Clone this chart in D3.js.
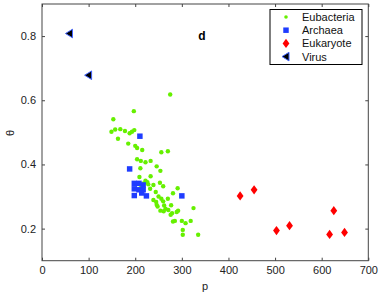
<!DOCTYPE html>
<html><head><meta charset="utf-8">
<script src="https://cdn.jsdelivr.net/npm/d3@7"></script>
<style>body{margin:0;background:#fff}svg{display:block;font-family:"Liberation Sans",Arial,sans-serif}</style>
</head><body><svg id="c" width="382" height="294"></svg>
<script>
const eubP = [275,197,153,149,157,168,178,188,193,198,163,185,200,204,215,256,270,204,212,222,233,246,254,211,209,233,222,218,239,232,253,260,244,291,281,256,270,260,245,248,277,325,254,292,276,281,285,300,308,319,302,302,335,226,215,228,213,239,246,261,271,279,289,265,250,262];
const eubT = [0.618,0.566,0.541,0.502,0.509,0.510,0.504,0.497,0.502,0.507,0.480,0.465,0.458,0.451,0.445,0.438,0.441,0.416,0.411,0.407,0.411,0.394,0.380,0.388,0.361,0.363,0.349,0.341,0.336,0.324,0.343,0.332,0.314,0.326,0.310,0.293,0.293,0.285,0.283,0.269,0.273,0.264,0.256,0.256,0.243,0.222,0.224,0.224,0.217,0.224,0.196,0.181,0.181,0.345,0.335,0.338,0.330,0.289,0.274,0.254,0.258,0.248,0.252,0.262,0.300,0.272];
const arcP = [210,188,300,198,208,217,198,208,217,198,224,214];
const arcT = [0.488,0.386,0.302,0.341,0.341,0.336,0.324,0.321,0.321,0.303,0.302,0.311];
const eukP = [425,455,503,531,617,626,649];
const eukT = [0.302,0.321,0.194,0.209,0.182,0.256,0.188];
const virP = [59,100];
const virT = [0.808,0.678];
const xTicks = [0,100,200,300,400,500,600,700];
const yTicks = [0.2,0.4,0.6,0.8];
const legendNames = ["Eubacteria","Archaea","Eukaryote","Virus"];

const svg = d3.select("#c");
const L=42, R=368.3, T=4, B=260.7;
const x = d3.scaleLinear().domain([0,700]).range([L,R]);
const y = d3.scaleLinear().domain([0.1,0.9]).range([B,T]);

const green="#66f000", blue="#1f3cff", red="#ff0000";
const sq = d3.symbol().type(d3.symbolSquare).size(30);
const dia = "M0,-4.6L3.4,0L0,4.6L-3.4,0Z";
const tri = "M-4,0L3,-4.3L3,4.3Z";

const fs = 11;
svg.append("rect").attr("x",L).attr("y",T).attr("width",R-L).attr("height",B-T).attr("fill","none").attr("stroke","#444").attr("stroke-width",1);
const gx = svg.append("g").attr("transform",`translate(0,${B})`).call(d3.axisBottom(x).tickValues(xTicks).tickSize(-3).tickPadding(6).tickFormat(d3.format("d")));
const gxt = svg.append("g").attr("transform",`translate(0,${T})`).call(d3.axisTop(x).tickValues(xTicks).tickSize(-3).tickFormat(""));
const gy = svg.append("g").attr("transform",`translate(${L},0)`).call(d3.axisLeft(y).tickValues(yTicks).tickSize(-3).tickPadding(6).tickFormat(d3.format(".1f")));
const gyr = svg.append("g").attr("transform",`translate(${R},0)`).call(d3.axisRight(y).tickValues(yTicks).tickSize(-3).tickFormat(""));
[gx,gxt,gy,gyr].forEach(g=>{g.select(".domain").remove();g.selectAll("line").attr("stroke","#444");g.selectAll("text").attr("font-size",fs).attr("fill","#222").attr("font-family","Liberation Sans, Arial, sans-serif");});

svg.append("text").attr("x",205).attr("y",290).attr("text-anchor","middle").attr("font-size",11).attr("fill","#222").text("p");
svg.append("text").attr("transform","translate(14,133) rotate(-90)").attr("text-anchor","middle").attr("font-size",11).attr("fill","#222").text("θ");
svg.append("text").attr("x",202).attr("y",40).attr("text-anchor","middle").attr("font-size",12).attr("font-weight","bold").attr("fill","#000").text("d");

svg.append("g").selectAll("circle").data(eubP.map((p,i)=>[p,eubT[i]])).join("circle")
  .attr("cx",d=>x(d[0])).attr("cy",d=>y(d[1])).attr("r",2.2).attr("fill",green);
svg.append("g").selectAll("path").data(arcP.map((p,i)=>[p,arcT[i]])).join("path")
  .attr("d",sq).attr("transform",d=>`translate(${x(d[0])},${y(d[1])})`).attr("fill",blue);
svg.append("g").selectAll("path").data(eukP.map((p,i)=>[p,eukT[i]])).join("path")
  .attr("d",dia).attr("transform",d=>`translate(${x(d[0])},${y(d[1])})`).attr("fill",red);
svg.append("g").selectAll("path").data(virP.map((p,i)=>[p,virT[i]])).join("path")
  .attr("d",tri).attr("transform",d=>`translate(${x(d[0])},${y(d[1])})`).attr("fill","#000").attr("stroke","#4466ff").attr("stroke-width",1);

const lg = svg.append("g");
lg.append("rect").attr("x",270).attr("y",9.5).attr("width",92).attr("height",55).attr("fill","#fff").attr("stroke","#000").attr("stroke-width",1);
legendNames.forEach((n,i)=>{
  const yy = 17+i*13.2, xx=286;
  if(i===0) lg.append("circle").attr("cx",xx).attr("cy",yy).attr("r",1.8).attr("fill",green);
  if(i===1) lg.append("path").attr("d",sq).attr("transform",`translate(${xx},${yy})`).attr("fill",blue);
  if(i===2) lg.append("path").attr("d",dia).attr("transform",`translate(${xx},${yy})`).attr("fill",red);
  if(i===3) lg.append("path").attr("d",tri).attr("transform",`translate(${xx},${yy})`).attr("fill","#000").attr("stroke","#4466ff");
  lg.append("text").attr("x",302).attr("y",yy+4).attr("font-size",11).attr("fill","#111").text(n);
});
</script></body></html>
